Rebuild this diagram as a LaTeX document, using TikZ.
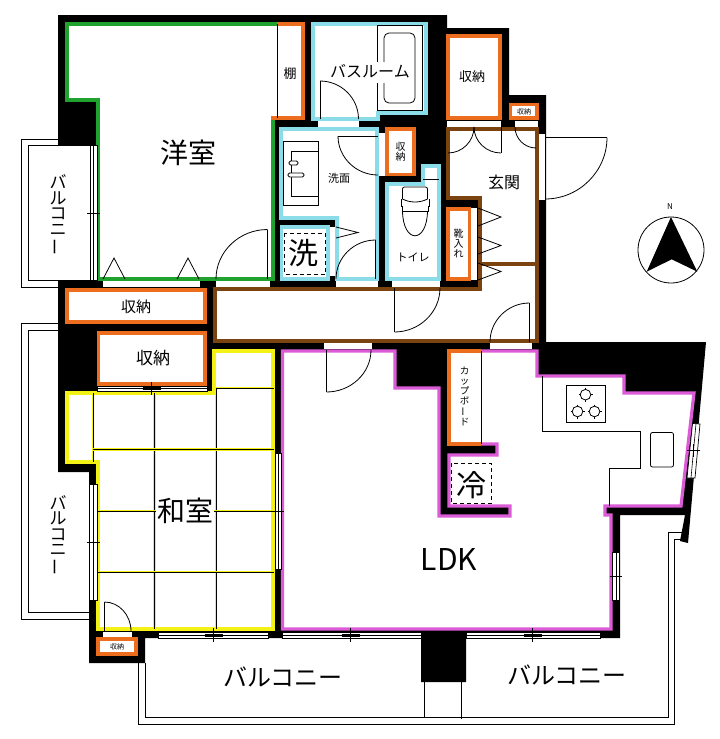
\documentclass[tikz,border=0pt]{standalone}
\usepackage{fontspec}
\usepackage{xcolor}
\setmainfont{Noto Sans CJK JP}
\usetikzlibrary{calc}
\definecolor{vert}{HTML}{1FA22E}
\definecolor{orange2}{HTML}{EC6D1E}
\definecolor{cyan2}{HTML}{8ADCE8}
\definecolor{brun}{HTML}{7A4310}
\definecolor{magenta2}{HTML}{DB5CD6}
\definecolor{jaune}{HTML}{F4F214}
\tikzset{
  fin/.style={black, line width=0.8pt},
  mur/.style={fill=black},
  piece/.style={fill=white, line width=3.2pt, line join=miter},
  baie/.style={fill=white},
  fenetre/.style={draw=black, fill=white, line width=0.7pt},
  taille/.style={font=\fontsize{#1}{#1}\selectfont, inner sep=0pt},
  colonne/.style={font=\fontsize{17}{15.5}\selectfont, inner sep=0pt, align=center},
  pointille/.style={black, line width=0.7pt, dash pattern=on 4pt off 3pt}
}
\newcommand{\quart}[3]{\draw[fin] #1 .. controls ($#1!.55!#2$) and ($#3!.55!#2$) .. #3;}
\newcommand{\barre}{\rotatebox[origin=c]{90}{ー}}
\begin{document}
\begin{tikzpicture}[x=1pt, y=-1pt]
  \useasboundingbox (0,0) rectangle (720,739);
  % Balcons
  \draw[fin] (58,139.5) -- (21.5,139.5) -- (21.5,287) -- (58,287);
  \draw[fin] (90,145.5) -- (28.5,145.5) -- (28.5,280) -- (90,280);
  \draw[fin] (58,323) -- (21.5,323) -- (21.5,619) -- (89,619);
  \draw[fin] (58,330) -- (28.5,330) -- (28.5,612) -- (89,612);
  \draw[fin] (138.5,663) -- (138.5,724) -- (674.5,724) -- (674.5,539) -- (682,539);
  \draw[fin] (145.5,663) -- (145.5,717) -- (668,717) -- (668,532) -- (683,532);
  \draw[fin] (424.5,682) -- (424.5,717);
  \draw[fin] (461.5,682) -- (461.5,719);
  % Murs
  \fill[mur] (58,15) -- (447,15) -- (447,28) -- (509,28) -- (509,95) -- (546,95) -- (546,342) -- (706,342)
    -- (688,543) -- (680,541) -- (685,515) -- (620,515) -- (620,638) -- (466,638) -- (466,682) -- (421,682)
    -- (421,638) -- (145,638) -- (145,663) -- (89,663) -- (89,472) -- (58,472) -- (58,280) -- (97,280)
    -- (97,145) -- (58,145) -- cycle;
  % Pieces
  \filldraw[piece, draw=vert] (277,24) -- (67,24) -- (67,100) -- (98,100) -- (98,279) -- (273,279) -- (273,118) -- (303,118) -- (303,24) -- cycle;
  \draw[orange2, line width=3.2pt] (273,120) -- (273,118) -- (303,118) -- (303,24) -- (277,24);
  \filldraw[piece, draw=cyan2] (313,24) -- (426,24) -- (426,113) -- (378,113) -- (378,119) -- (313,119) -- cycle;
  \filldraw[piece, draw=cyan2] (281,129) -- (377,129) -- (377,279) -- (337,279) -- (337,218) -- (281,218) -- cycle;
  \filldraw[piece, draw=cyan2] (281.5,227) rectangle (328,279);
  \filldraw[piece, draw=cyan2] (387,184) -- (423,184) -- (423,166) -- (439,166) -- (439,279) -- (387,279) -- cycle;
  \filldraw[piece, draw=brun] (448,129) -- (537,129) -- (537,341) -- (215,341) -- (215,289) -- (480,289) -- (480,198) -- (448,198) -- cycle;
  \draw[brun, line width=3.2pt] (480,264) -- (536,264);
  \filldraw[piece, draw=magenta2] (282.5,351) -- (395,351) -- (395,388) -- (439,388) -- (439,516) -- (510,516) -- (510,506) -- (449,506)
    -- (449,455) -- (497,455) -- (497,444) -- (449,444) -- (449,351) -- (537,351) -- (537,376) -- (624,376) -- (624,393) -- (694,393)
    -- (681,506) -- (605,506) -- (605,515) -- (611,515) -- (611,629) -- (282.5,629) -- cycle;
  \draw[orange2, line width=3.2pt] (481,444) -- (449,444) -- (449,351) -- (481,351);
  \filldraw[piece, draw=jaune] (67,393) -- (214,393) -- (214,351) -- (273,351) -- (273,629) -- (98,629) -- (98,462) -- (67,462) -- cycle;
  % Rangements
  \foreach \xa/\ya/\xb/\yb in {67/290/205/322, 98.5/333/205/384, 98/639/136/654, 387/129/414/174.5, 448/36/500/118, 510.5/104.5/537/118, 448/209/469.5/279}
    \filldraw[piece, draw=orange2] (\xa,\ya) rectangle (\xb,\yb);
  % Tatamis
  \foreach \xa/\ya/\xb/\yb in {93/393/93/462, 154.5/393/154.5/629, 216/388/216/629, 216/388/274/388, 93/449.5/274/449.5, 97/511/274/511, 97/572/274/572} {
    \draw[jaune, line width=2.4pt] (\xa,\ya) -- (\xb,\yb);
    \draw[fin] (\xa,\ya) -- (\xb,\yb);
  }
  % Baies de portes
  \foreach \xa/\ya/\xb/\yb in {103/281/200/287, 216/281/270/287, 318/121/359/127, 379/133/385/176, 330/227/335/276, 336/281/378/287, 392/281/440/287,
    447/121/501/127, 515/121/538/127, 539/134/545/200, 471/208/477/280, 324/343/372/349, 490/343/532/349, 103/632/132/637}
    \fill[baie] (\xa,\ya) rectangle (\xb,\yb);
  % Portes battantes
  \foreach \hx/\hy/\tipy/\fx in {267.5/279/229.5/216, 320/119/81/358.5, 394.5/288/332/440, 326.5/350/392/371, 529.5/342/303/490, 375.7/279/240/336, 104.5/631/602/131, 501/127/153/474} {
    \draw[fin] (\hx,\hy) -- (\hx,\tipy);
    \quart{(\hx,\tipy)}{(\fx,\tipy)}{(\fx,\hy)}
  }
  \draw[fin] (378,136) -- (338,136);
  \quart{(338,136)}{(338,175)}{(378,175)}
  \draw[fin] (545,137.5) -- (607,137.5);
  \quart{(607,137.5)}{(607,199)}{(545,199)}
  \quart{(448,153)}{(474,153)}{(474,127)}
  \quart{(515,127)}{(515,148)}{(536,148)}
  % Portes pliantes
  \foreach \xa/\xb in {103/125, 177/199}
    \draw[fin] (\xa,279) -- ({(\xa+\xb)/2},258) -- (\xb,279);
  \foreach \ya/\yb in {208/226, 237/254, 263/280}
    \draw[fin] (478,\ya) -- (501,{(\ya+\yb)/2}) -- (478,\yb);
  \draw[fin] (336,227) -- (358,232.5) -- (336,238);
  % Fenetres verticales
  \foreach \xa/\xb/\ya/\yb/\tick in {90/97/145/280/213, 89.5/97/484/600/542, 275/281/453/569/511, 612.7/619/552/600/576.5} {
    \filldraw[fenetre] (\xa,\ya) rectangle (\xb,\yb);
    \draw[fin, line width=0.6pt] ({(\xa+\xb)/2},\ya) -- ({(\xa+\xb)/2},\yb);
    \draw[fin] (\xa-3,\tick) -- (\xb+3,\tick);
  }
  % Fenetres horizontales
  \foreach \xa/\xb/\ya/\yb/\tick in {97/207/386/391/151.7, 158/268/632/638/213.5, 282/421/632/638/350.5, 466/600/632/638/532.5} {
    \filldraw[fenetre] (\xa,\ya) rectangle (\xb,\yb);
    \draw[fin, line width=0.6pt] (\xa,{(\ya+\yb)/2}) -- (\xb,{(\ya+\yb)/2});
    \draw[fin] (\tick,\ya-4) -- (\tick,\yb+4);
    \draw[fin] (\tick-9,{(\ya+\yb)/2-1}) -- (\tick+9,{(\ya+\yb)/2-1});
    \draw[fin] (\tick-9,{(\ya+\yb)/2+1}) -- (\tick+9,{(\ya+\yb)/2+1});
  }
  % Fenetre oblique
  \filldraw[fenetre] (692.5,423.5) -- (700,424) -- (695,478) -- (687,478) -- cycle;
  \draw[fin, line width=0.6pt] (696,423.5) -- (691,478);
  \draw[fin] (687,450.5) -- (700,450.5);
  \draw[fin] (693.5,444) -- (693.5,457);
  % Traits fins
  \draw[fin] (277.5,24) -- (277.5,118);
  \draw[fin] (481,351) -- (481,444);
  \draw[fin] (423,179.5) -- (439,179.5);
  % Baignoire
  \draw[fin] (377,62) -- (377,25) -- (422,25) -- (422,110) -- (377,110) -- (377,83);
  \draw[fin, rounded corners=5pt] (384,62) -- (384,33) -- (415,33) -- (415,103) -- (384,103) -- (384,83);
  % Lavabo
  \draw[fin] (283.7,141.7) rectangle (318.3,205);
  \draw[fin] (318,151) -- (291.5,151) -- (291.5,196) -- (318,196);
  \draw[fin, fill=white, rounded corners=1.5pt] (289,161) rectangle (298,165);
  \draw[fin, fill=white, rounded corners=1.5pt] (288,173) rectangle (304,177);
  % WC
  \draw[fin, rounded corners=2pt] (402.5,199) -- (402.5,187) -- (427.5,187) -- (427.5,199);
  \draw[fin] (402.5,199) .. controls (410,203) and (420,203) .. (427.5,199);
  \draw[fin] (402,206) -- (402,211) -- (428,211) -- (428,206) -- (429,206) -- (429,199);
  \draw[fin] (402,206) -- (401,206) -- (401,199);
  \draw[fin] (402.5,211) .. controls (403,244) and (427,244) .. (427.5,211);
  % Cuisine
  \draw[fin] (542.7,376) -- (542.7,431) -- (640.5,431) -- (640.5,468) -- (609.5,468) -- (609.5,506);
  \draw[fin] (566.3,385.3) rectangle (605.7,422);
  \foreach \cx/\cy in {585.5/394.7, 577.5/411.5, 594.5/411.5} {
    \draw[fin] (\cx-7,\cy) -- (\cx+7,\cy) (\cx,\cy-7) -- (\cx,\cy+7);
    \filldraw[fin, fill=white] (\cx,\cy) circle (5.3);
  }
  \draw[fin, rounded corners=2pt] (650.5,432.5) rectangle (673.5,467);
  % Emplacements
  \draw[pointille] (284.5,233) rectangle (325,274);
  \draw[pointille] (451.3,463.3) rectangle (491.7,503.3);
  % Nord
  \draw[fin] (671,250) circle (33);
  \fill[black] (671,217) -- (646.7,271.7) -- (671.7,259.3) -- (697.3,271.7) -- cycle;
  \node[taille=8] (nord) at (670,207) {N};
  % Textes
  \node[taille=28] (yoshitsu) at (188,153) {洋室};
  \node[taille=28, fill=white, inner sep=1pt] (washitsu) at (185,511) {和室};
  \node[taille=30] (ldk) at (449,559.5) {LDK};
  \node[taille=13] (tana) at (290,74) {棚};
  \node[taille=16, fill=white, inner sep=0.5pt] (bath) at (370,71) {バスルーム};
  \node[taille=11] (senmen) at (339,178) {洗面};
  \node[taille=11] (toilet) at (413,257) {トイレ};
  \node[taille=16] (genkan) at (504,182) {玄関};
  \node[taille=30] (sentaku) at (303,253) {洗};
  \node[taille=30] (reizo) at (471,485) {冷};
  \node[taille=15] (shuno1) at (136,307) {収納};
  \node[taille=17] (shuno2) at (153,358) {収納};
  \node[taille=13] (shuno3) at (472,77) {収納};
  \node[taille=7] (shuno4) at (524,111.5) {収納};
  \node[taille=7] (shuno5) at (117,646.5) {収納};
  \node[taille=10, align=center] (shuno6) at (400.5,152) {収\\納};
  \node[taille=10, align=center] (kutsu) at (458.5,243) {靴\\入\\れ};
  \node[font=\fontsize{9.5}{10}\selectfont, inner sep=0pt, align=center] (cup) at (464.5,396) {カ\\ッ\\プ\\ボ\\\barre\\ド};
  \node[colonne] (balcon1) at (58,215) {バ\\ル\\コ\\ニ\\\barre};
  \node[colonne] (balcon2) at (58,535.5) {バ\\ル\\コ\\ニ\\\barre};
  \node[taille=24] (balcon3) at (283,677) {バルコニー};
  \node[taille=24] (balcon4) at (567,675) {バルコニー};
\end{tikzpicture}
\end{document}
